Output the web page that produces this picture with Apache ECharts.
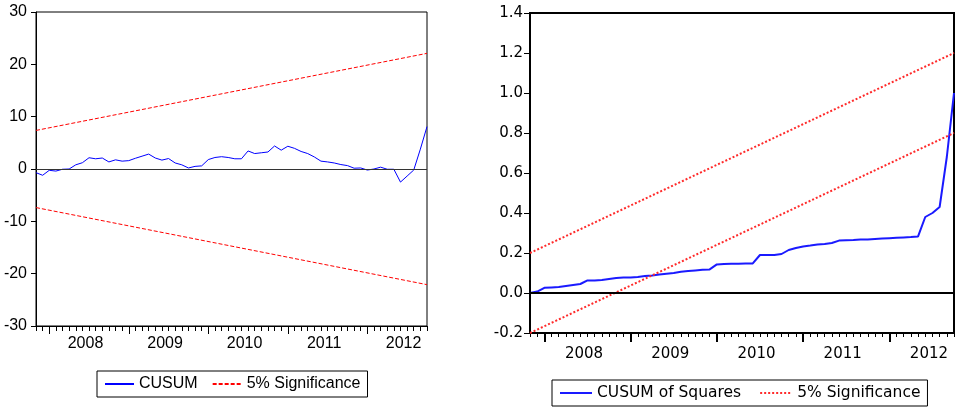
<!DOCTYPE html>
<html>
<head>
<meta charset="utf-8">
<script src="https://cdn.jsdelivr.net/npm/echarts@6/dist/echarts.min.js"></script>
<style>
  html, body { margin: 0; padding: 0; background: #fff; }
  #wrap { position: relative; width: 955px; height: 409px; }
  #cusum { position: absolute; left: 0; top: 0; width: 470px; height: 409px; }
  #cusumsq { position: absolute; left: 470px; top: 0; width: 485px; height: 409px; }
</style>
</head>
<body>
<div id="wrap">
  <div id="cusum"></div>
  <div id="cusumsq"></div>
</div>
<script>
// monthly observations 2007M11 .. 2012M10
const months = [
  '2007M11','2007M12',
  '2008M01','2008M02','2008M03','2008M04','2008M05','2008M06','2008M07','2008M08','2008M09','2008M10','2008M11','2008M12',
  '2009M01','2009M02','2009M03','2009M04','2009M05','2009M06','2009M07','2009M08','2009M09','2009M10','2009M11','2009M12',
  '2010M01','2010M02','2010M03','2010M04','2010M05','2010M06','2010M07','2010M08','2010M09','2010M10','2010M11','2010M12',
  '2011M01','2011M02','2011M03','2011M04','2011M05','2011M06','2011M07','2011M08','2011M09','2011M10','2011M11','2011M12',
  '2012M01','2012M02','2012M03','2012M04','2012M05','2012M06','2012M07','2012M08','2012M09','2012M10'
];

// CUSUM (left panel)
const cusum = [
  -0.7, -1.2, -0.25, -0.4, -0.05, 0, 0.8, 1.2, 2.15, 1.95,
  2.1, 1.35, 1.75, 1.5, 1.6, 2.05, 2.45, 2.85, 2.1, 1.7,
  2.0, 1.15, 0.8, 0.2, 0.5, 0.6, 1.8, 2.2, 2.35, 2.2,
  1.95, 1.95, 3.45, 2.95, 3.1, 3.25, 4.4, 3.6, 4.35, 3.95,
  3.35, 2.95, 2.3, 1.5, 1.35, 1.15, 0.85, 0.65, 0.15, 0.2,
  -0.2, 0, 0.35, -0.05, -0.05, -2.5, -1.35, -0.2, 3.8, 8.1
];
const cusumUpper = [7.37, 22.1];   // first / last observation
const cusumLower = [-7.37, -22.1];

// CUSUM of squares (right panel)
const cusumSq = [
  0, 0.007, 0.026, 0.028, 0.03, 0.035, 0.04, 0.045, 0.063, 0.063,
  0.065, 0.07, 0.075, 0.077, 0.078, 0.08, 0.085, 0.088, 0.092, 0.096,
  0.1, 0.106, 0.11, 0.113, 0.116, 0.118, 0.143, 0.145, 0.146, 0.146,
  0.147, 0.148, 0.19, 0.19, 0.19, 0.195, 0.215, 0.225, 0.233, 0.237,
  0.242, 0.245, 0.25, 0.262, 0.264, 0.265, 0.267, 0.268, 0.27, 0.272,
  0.274, 0.276, 0.278, 0.28, 0.283, 0.38, 0.40, 0.43, 0.68, 1.0
];
const sqUpper = [0.2, 1.2];
const sqLower = [-0.2, 0.8];

const first = months[0], last = months[months.length - 1];
const ends = vals => [[first, vals[0]], [last, vals[1]]];

const fontL = 'Liberation Sans, Arial, sans-serif';
const fontR = 'DejaVu Sans, sans-serif';

// minor ticks every month, labels mid-year
function monthAxis(font, size, tickLen, margin, w) {
  return {
    type: 'category', data: months, boundaryGap: false, position: 'bottom',
    axisLine: { onZero: false, lineStyle: { color: '#000', width: w } },
    axisTick: { interval: 0, length: tickLen, lineStyle: { color: '#000', width: 1 } },
    axisLabel: {
      interval: (i, v) => v.endsWith('M07'),
      formatter: v => v.slice(0, 4),
      color: '#000', fontFamily: font, fontSize: size, margin: margin,
      padding: [0, 7, 0, 0]
    },
    splitLine: { show: false }
  };
}
// longer ticks at the start of each year
function yearTickAxis(tickLen, w) {
  return {
    type: 'category', data: months, boundaryGap: false, position: 'bottom',
    axisLine: { show: false, onZero: false },
    axisTick: { interval: (i, v) => v.endsWith('M01'), length: tickLen, lineStyle: { color: '#000', width: w } },
    axisLabel: { show: false },
    splitLine: { show: false }
  };
}
function zeroLine(color, width) {
  return {
    silent: true, symbol: 'none', label: { show: false },
    lineStyle: { color: color, type: 'solid', width: width },
    data: [{ yAxis: 0 }]
  };
}

const left = echarts.init(document.getElementById('cusum'));
left.setOption({
  backgroundColor: '#fff',
  animation: false,
  grid: { left: 36, top: 12, width: 391, height: 314, show: true, borderColor: '#000', borderWidth: 1, backgroundColor: 'transparent' },
  xAxis: [monthAxis(fontL, 16, 5, 10, 1), yearTickAxis(8, 1)],
  yAxis: {
    type: 'value', min: -30, max: 30, interval: 10,
    axisLine: { show: true, lineStyle: { color: '#000' } },
    axisTick: { show: true, length: 5, lineStyle: { color: '#000' } },
    axisLabel: { color: '#000', fontFamily: fontL, fontSize: 16, margin: 9 },
    splitLine: { show: false }
  },
  legend: {
    left: 97, top: 371, padding: [5, 7, 5, 7], itemGap: 14, itemWidth: 29, itemHeight: 14,
    borderColor: '#000', borderWidth: 1, selectedMode: false,
    itemStyle: { opacity: 0 },
    textStyle: { color: '#000', fontFamily: fontL, fontSize: 16 },
    data: ['CUSUM', '5% Significance']
  },
  series: [
    {
      name: 'CUSUM', type: 'line', data: cusum, symbol: 'none', z: 3,
      lineStyle: { color: '#0000ff', width: 1 }, itemStyle: { color: '#0000ff' },
      markLine: zeroLine('#333', 1.2)
    },
    {
      name: '5% Significance', type: 'line', data: ends(cusumUpper), symbol: 'none',
      lineStyle: { color: '#ff0000', width: 1, type: [4, 2] }, itemStyle: { color: '#ff0000' }
    },
    {
      name: '5% Significance', type: 'line', data: ends(cusumLower), symbol: 'none',
      lineStyle: { color: '#ff0000', width: 1, type: [4, 2] }, itemStyle: { color: '#ff0000' }
    }
  ]
});

const right = echarts.init(document.getElementById('cusumsq'));
right.setOption({
  backgroundColor: '#fff',
  animation: false,
  grid: { left: 60, top: 13, width: 424, height: 320, show: true, borderColor: '#000', borderWidth: 2, backgroundColor: 'transparent' },
  xAxis: [monthAxis(fontR, 15, 4, 14, 2), yearTickAxis(9, 2)],
  yAxis: {
    type: 'value', min: -0.2, max: 1.4, interval: 0.2,
    axisLine: { show: true, lineStyle: { color: '#000', width: 2 } },
    axisTick: { show: true, length: 6, lineStyle: { color: '#000' } },
    axisLabel: { color: '#000', fontFamily: fontR, fontSize: 15, margin: 7, formatter: v => v.toFixed(1) },
    splitLine: { show: false }
  },
  legend: {
    left: 82, top: 380, padding: [5, 7, 5, 7], itemGap: 18, itemWidth: 32, itemHeight: 14,
    borderColor: '#000', borderWidth: 1, selectedMode: false,
    itemStyle: { opacity: 0 },
    textStyle: { color: '#000', fontFamily: fontR, fontSize: 15.5 },
    data: ['CUSUM of Squares', '5% Significance']
  },
  series: [
    {
      name: 'CUSUM of Squares', type: 'line', data: cusumSq, symbol: 'none', z: 3,
      lineStyle: { color: '#1a1aff', width: 2 }, itemStyle: { color: '#1a1aff' },
      markLine: zeroLine('#000', 2)
    },
    {
      name: '5% Significance', type: 'line', data: ends(sqUpper), symbol: 'none',
      lineStyle: { color: '#ff2a2a', width: 2, type: [2, 2] }, itemStyle: { color: '#ff2a2a' }
    },
    {
      name: '5% Significance', type: 'line', data: ends(sqLower), symbol: 'none',
      lineStyle: { color: '#ff2a2a', width: 2, type: [2, 2] }, itemStyle: { color: '#ff2a2a' }
    }
  ]
});
</script>
</body>
</html>
